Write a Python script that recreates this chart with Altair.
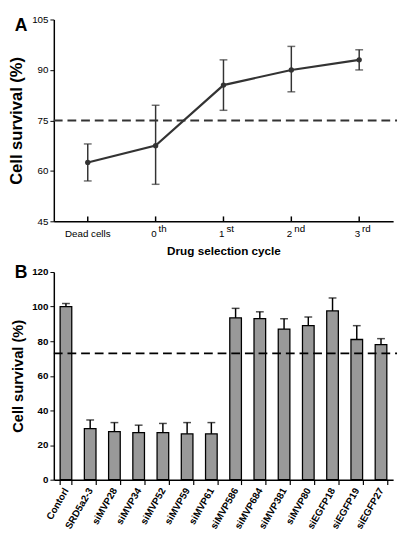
import altair as alt
import pandas as pd

# ---------------- Panel A data ----------------
cycle_keys = ["Dead cells", "0th", "1st", "2nd", "3rd"]
cycle_main = ["Dead cells", "0", "1", "2", "3"]
cycle_sup = ["", "th", "st", "nd", "rd"]
mean_a = [62.5, 67.5, 85.5, 90.0, 93.0]
low_a = [57.0, 56.0, 78.0, 83.5, 90.0]
high_a = [68.0, 79.5, 93.0, 97.0, 96.0]
ref_a = 75
yticks_a = [45, 60, 75, 90, 105]

# ---------------- Panel B data ----------------
cats_b = ["Contorl", "SRD5a2-3", "siMVP28", "siMVP34", "siMVP52", "siMVP59",
          "siMVP61", "siMVP586", "siMVP684", "siMVP381", "siMVP80",
          "siEGFP18", "siEGFP19", "siEGFP27"]
mean_b = [100.0, 29.5, 27.8, 27.2, 27.2, 26.5, 26.5, 93.5, 93.0, 87.0, 89.0, 97.5, 81.0, 78.0]
top_b = [101.8, 34.5, 33.0, 31.5, 32.5, 33.0, 33.0, 99.0, 97.0, 93.0, 94.0, 105.0, 89.0, 81.5]
ref_b = 73
yticks_b = [0, 20, 40, 60, 80, 100, 120]

FONT = "Liberation Sans, Arial, Helvetica, sans-serif"
DARK = "#333333"

WA, HA = 348, 207
WB, HB = 348, 213

dfa = pd.DataFrame({"cycle": cycle_keys, "main": cycle_main, "sup": cycle_sup,
                    "mean": mean_a, "low": low_a, "high": high_a})

xa = alt.X("cycle:N", sort=cycle_keys,
           scale=alt.Scale(type="point", padding=0.5),
           axis=alt.Axis(labels=False, ticks=False, title="Drug selection cycle",
                         titleFont=FONT, titleFontSize=12, titleFontWeight="bold",
                         titlePadding=25, domainColor="black", domainWidth=1.5))
scale_a = alt.Scale(domain=[45, 105], nice=False, zero=False)
axis_a = alt.Axis(values=yticks_a, title="Cell survival (%)", grid=False,
                  titleFont=FONT, titleFontSize=17, titleFontWeight="bold",
                  titlePadding=6, labelFont=FONT, labelFontSize=10,
                  labelOverlap=False,
                  tickSize=4, tickColor="black", domainColor="black",
                  domainWidth=1.5, labelPadding=2)

base_a = alt.Chart(dfa)
line_a = base_a.mark_line(color=DARK, strokeWidth=2.2).encode(
    x=xa, y=alt.Y("mean:Q", scale=scale_a, axis=axis_a))
pts_a = base_a.mark_circle(color=DARK, size=30, opacity=1).encode(
    x=xa, y=alt.Y("mean:Q", scale=scale_a, axis=axis_a))
err_a = base_a.mark_rule(color=DARK, strokeWidth=1.5).encode(
    x=xa, y=alt.Y("low:Q", scale=scale_a, axis=axis_a), y2="high:Q")
caplo_a = base_a.mark_tick(color=DARK, thickness=1.5, size=8).encode(
    x=xa, y=alt.Y("low:Q", scale=scale_a, axis=axis_a))
caphi_a = base_a.mark_tick(color=DARK, thickness=1.5, size=8).encode(
    x=xa, y=alt.Y("high:Q", scale=scale_a, axis=axis_a))
ref_line_a = alt.Chart(pd.DataFrame({"v": [ref_a]})).mark_rule(
    color=DARK, strokeWidth=2, strokeDash=[9, 5]).encode(
    y=alt.Y("v:Q", scale=scale_a, axis=axis_a), x=alt.value(0), x2=alt.value(WA + 4))
inticks_a = base_a.mark_rule(color="black", strokeWidth=1.5).encode(
    x=xa, y=alt.value(HA - 5), y2=alt.value(HA))
lab_dead = alt.Chart(dfa[dfa["sup"] == ""]).mark_text(
    font=FONT, fontSize=10, baseline="top", align="center").encode(
    x=xa, y=alt.value(HA + 8), text="main:N")
lab_num = alt.Chart(dfa[dfa["sup"] != ""]).mark_text(
    font=FONT, fontSize=10, baseline="top", align="right", dx=1).encode(
    x=xa, y=alt.value(HA + 8), text="main:N")
lab_sup = alt.Chart(dfa[dfa["sup"] != ""]).mark_text(
    font=FONT, fontSize=10, baseline="top", align="left", dx=3).encode(
    x=xa, y=alt.value(HA + 3), text="sup:N")
letter_a = alt.Chart(pd.DataFrame({"t": ["A"]})).mark_text(
    font=FONT, fontSize=18, fontWeight="bold", align="left", baseline="top").encode(
    x=alt.value(-40), y=alt.value(-2), text="t:N")

panel_a = alt.layer(ref_line_a, err_a, caplo_a, caphi_a, line_a, pts_a, inticks_a,
                    lab_dead, lab_num, lab_sup, letter_a).properties(width=WA, height=HA)

# ---------------- Panel B ----------------
dfb = pd.DataFrame({"cat": cats_b, "mean": mean_b, "top": top_b})
xb = alt.X("cat:N", sort=cats_b,
           scale=alt.Scale(paddingInner=0.52, paddingOuter=0.26),
           axis=alt.Axis(title=None, labelAngle=-60, labelAlign="right",
                         labelBaseline="middle", labelFont=FONT, labelFontSize=10,
                         labelFontWeight="bold", labelColor="black", tickBand="extent",
                         labelOverlap=False,
                         tickSize=5, tickColor="black", tickWidth=1.2,
                         domainColor="black", domainWidth=1.5, labelPadding=4))
scale_b = alt.Scale(domain=[0, 120], nice=False)
axis_b = alt.Axis(values=yticks_b, title="Cell survival (%)", grid=False,
                  titleFont=FONT, titleFontSize=15, titleFontWeight="bold",
                  titlePadding=6, labelFont=FONT, labelFontSize=10,
                  labelFontWeight="bold", labelOverlap=False,
                  tickSize=4, tickColor="black",
                  domainColor="black", domainWidth=1.5, labelPadding=2)
base_b = alt.Chart(dfb)
bars_b = base_b.mark_bar(color="#999999", stroke="black", strokeWidth=1.3).encode(
    x=xb, y=alt.Y("mean:Q", scale=scale_b, axis=axis_b))
err_b = base_b.mark_rule(color="black", strokeWidth=1.5).encode(
    x=xb, y=alt.Y("mean:Q", scale=scale_b, axis=axis_b), y2="top:Q")
cap_b = base_b.mark_tick(color="black", thickness=1.5, size=8).encode(
    x=xb, y=alt.Y("top:Q", scale=scale_b, axis=axis_b))
ref_line_b = alt.Chart(pd.DataFrame({"v": [ref_b]})).mark_rule(
    color="black", strokeWidth=2, strokeDash=[9, 5]).encode(
    y=alt.Y("v:Q", scale=scale_b, axis=axis_b), x=alt.value(0), x2=alt.value(WB + 4))
letter_b = alt.Chart(pd.DataFrame({"t": ["B"]})).mark_text(
    font=FONT, fontSize=18, fontWeight="bold", align="left", baseline="top").encode(
    x=alt.value(-40), y=alt.value(-8), text="t:N")

panel_b = alt.layer(bars_b, err_b, cap_b, ref_line_b, letter_b).properties(width=WB, height=HB)

chart = alt.vconcat(panel_a, panel_b, spacing=8).properties(
    padding={"left": 0, "top": 0, "right": 0, "bottom": 0}
).configure_view(stroke=None).configure_axis(labelColor="black", titleColor="black")

chart.save("out.html", embed_options={"renderer": "svg", "actions": False})
